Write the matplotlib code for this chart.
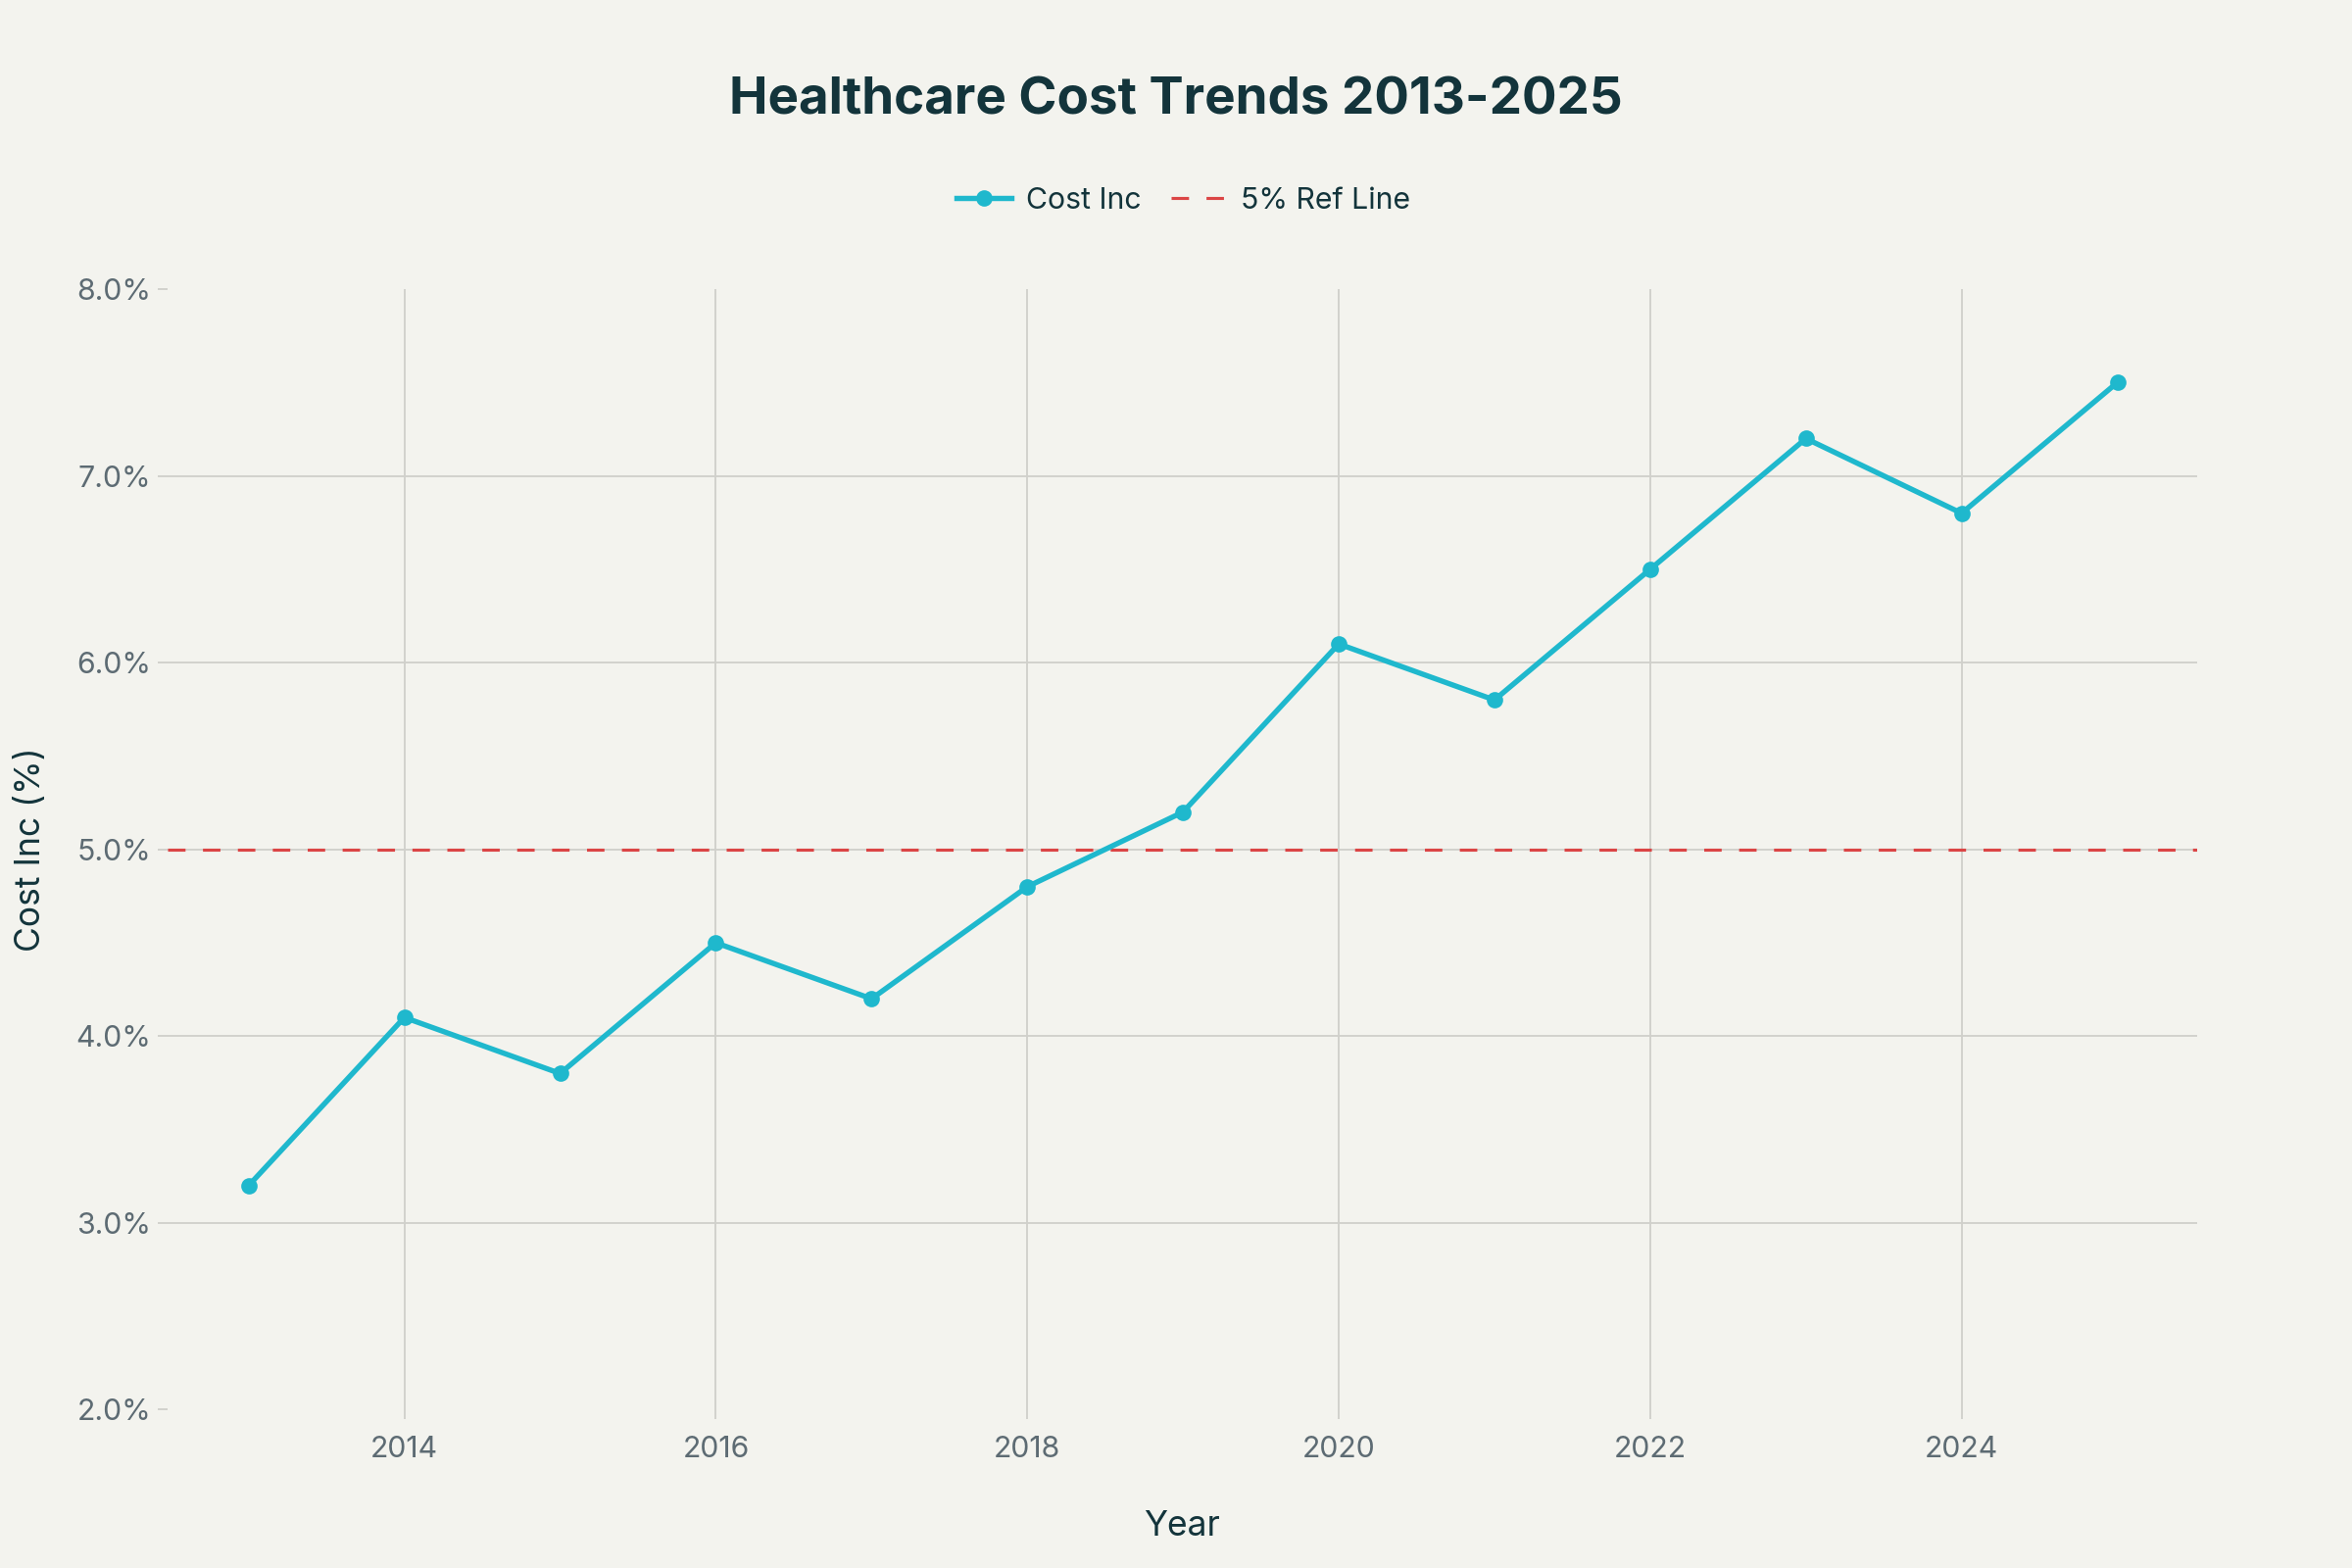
import matplotlib.pyplot as plt
from matplotlib.ticker import FuncFormatter

# Data
years = [2013, 2014, 2015, 2016, 2017, 2018, 2019, 2020, 2021, 2022, 2023, 2024, 2025]
cost_inc = [3.2, 4.1, 3.8, 4.5, 4.2, 4.8, 5.2, 6.1, 5.8, 6.5, 7.2, 6.8, 7.5]
ref_level = 5.0
y_ticks = [2, 3, 4, 5, 6, 7, 8]
x_ticks = [2014, 2016, 2018, 2020, 2022, 2024]

bg = '#F3F3EE'
dark = '#13343B'
grey = '#5D6B73'
grid_c = '#D0D0CB'

plt.rcParams['font.family'] = ['Inter', 'DejaVu Sans']

fig = plt.figure(figsize=(16, 16 / 1.5), dpi=150, facecolor=bg)
ax = fig.add_axes([0.0713, 0.101, 0.8627, 0.7146], facecolor=bg)

ax.plot(years, cost_inc, '-o', color='#1FB8CD', lw=2.6, ms=7,
        label='Cost Inc', zorder=3)
ax.axhline(ref_level, color='#DB4545', lw=1.5, ls=(0, (5.7, 5.7)),
           label='5% Ref Line', zorder=2)

ax.set_xlim(2012.48, 2025.51)
ax.set_ylim(2, 8)
ax.set_xticks(x_ticks)
ax.set_yticks(y_ticks)
ax.yaxis.set_major_formatter(FuncFormatter(lambda v, _: f'{v:.1f}%'))

# grid: vertical at x ticks, horizontal only inside the range
ax.grid(True, axis='x', color=grid_c, lw=0.9)
for yv in y_ticks[1:-1]:
    ax.axhline(yv, color=grid_c, lw=0.9, zorder=0.5)
ax.set_axisbelow(True)
for s in ax.spines.values():
    s.set_visible(False)
ax.tick_params(axis='both', colors=grid_c, labelcolor=grey, labelsize=14.5,
               length=5, width=0.9)
ax.tick_params(axis='x', pad=8)
ax.tick_params(axis='y', pad=3)

ax.set_xlabel('Year', fontsize=17, color=dark, labelpad=23)
ax.set_ylabel('Cost Inc (%)', fontsize=17, color=dark, labelpad=14)

fig.suptitle('Healthcare Cost Trends 2013-2025', fontsize=25.4,
             fontweight='bold', color=dark, y=0.951)

fig.legend(loc='center', bbox_to_anchor=(0.503, 0.872), ncol=2, frameon=False,
           fontsize=14.5, labelcolor=dark, handlelength=1.85, columnspacing=1.0,
           handletextpad=0.5)

fig.savefig('out.png', dpi=150, facecolor=bg)
